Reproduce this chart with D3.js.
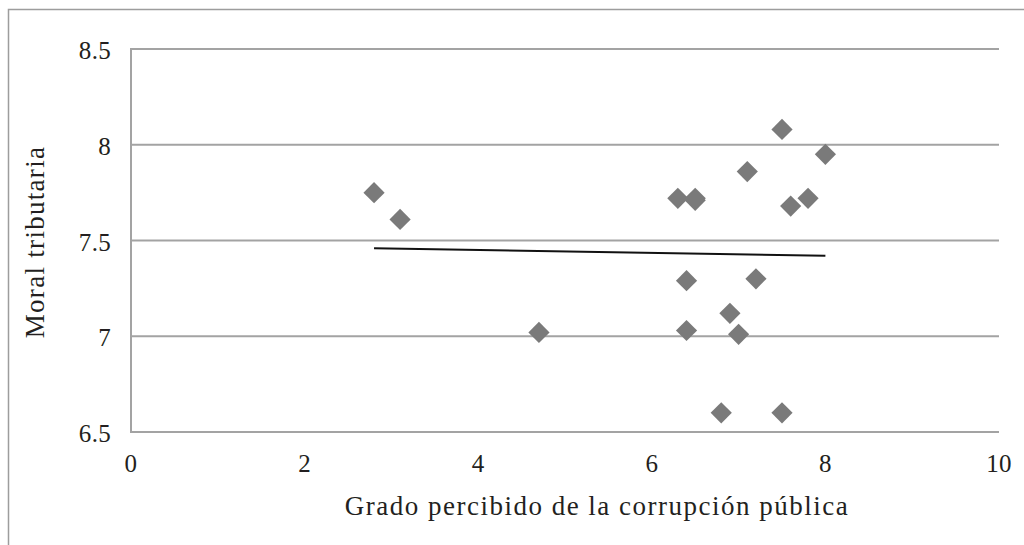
<!DOCTYPE html>
<html>
<head>
<meta charset="utf-8">
<script src="https://cdn.jsdelivr.net/npm/d3@7"></script>
<style>
  body { margin: 0; background: #fff; }
  text { font-family: "Liberation Serif", "DejaVu Serif", serif; fill: #231f20; }
</style>
</head>
<body>
<div id="chart"></div>
<script>
// data
var corrupcion = [2.8, 3.1, 4.7, 6.3, 6.5, 6.5, 7.1, 7.5, 8.0, 7.6, 7.8, 6.4, 7.2, 6.9, 6.4, 7.0, 6.8, 7.5];
var moral      = [7.75, 7.61, 7.02, 7.72, 7.72, 7.71, 7.86, 8.08, 7.95, 7.68, 7.72, 7.29, 7.30, 7.12, 7.03, 7.01, 6.60, 6.60];
var trendX = [2.8, 8.0];
var trendY = [7.46, 7.42];
var xTicks = [0, 2, 4, 6, 8, 10];
var yTicks = [6.5, 7, 7.5, 8, 8.5];
var xTitle = "Grado percibido de la corrupción pública";
var yTitle = "Moral tributaria";

const WIDTH = 1024;
const HEIGHT = 545;
const LEFT = 131;
const RIGHT = 999;
const TOP = 49;
const BOTTOM = 432;

var translate = function(x, y){
  return "translate(" + x + "," + y + ")";
};

var xScale = d3.scaleLinear().domain([0, 10]).range([LEFT, RIGHT]);
var yScale = d3.scaleLinear().domain([6.5, 8.5]).range([BOTTOM, TOP]);

var svg = d3.select('#chart').append('svg')
  .attr('width', WIDTH)
  .attr('height', HEIGHT);

// outer chart frame (runs off the right and bottom edges)
svg.append('rect')
  .attr('x', 8.5).attr('y', 9.5)
  .attr('width', WIDTH + 20).attr('height', HEIGHT + 20)
  .attr('fill', 'none')
  .attr('stroke', '#9d9d9d')
  .attr('stroke-width', 1.5);

// horizontal gridlines
svg.append('g').selectAll('line')
  .data(yTicks)
  .enter().append('line')
  .attr('x1', LEFT).attr('x2', RIGHT)
  .attr('y1', function(d){ return yScale(d); })
  .attr('y2', function(d){ return yScale(d); })
  .attr('stroke', '#a3a3a3')
  .attr('stroke-width', 2);

// left axis line
svg.append('line')
  .attr('x1', LEFT).attr('x2', LEFT)
  .attr('y1', TOP - 1).attr('y2', BOTTOM + 1)
  .attr('stroke', '#a3a3a3')
  .attr('stroke-width', 2);

// y tick labels
svg.append('g').selectAll('text')
  .data(yTicks)
  .enter().append('text')
  .attr('x', LEFT - 20)
  .attr('y', function(d){ return yScale(d) + 10; })
  .attr('text-anchor', 'end')
  .style('font-size', '25px')
  .style('letter-spacing', '0.3px')
  .text(function(d){ return d; });

// x tick labels
svg.append('g').selectAll('text')
  .data(xTicks)
  .enter().append('text')
  .attr('x', function(d){ return xScale(d); })
  .attr('y', BOTTOM + 40)
  .attr('text-anchor', 'middle')
  .style('font-size', '25px')
  .style('letter-spacing', '0.3px')
  .text(function(d){ return d; });

// trend line
var line = d3.line()
  .x(function(d){ return xScale(d); })
  .y(function(d, i){ return yScale(trendY[i]); });

svg.append('path')
  .attr('d', line(trendX))
  .attr('fill', 'none')
  .attr('stroke', '#111')
  .attr('stroke-width', 2);

// diamond markers
var diamond = d3.symbol().type(d3.symbolSquare).size(225);

svg.append('g').selectAll('path')
  .data(corrupcion)
  .enter().append('path')
  .attr('d', diamond)
  .attr('transform', function(d, i){
    return translate(xScale(d), yScale(moral[i])) + " rotate(45)";
  })
  .attr('fill', '#7a7a7a');

// axis titles
svg.append('text')
  .attr('x', 597)
  .attr('y', 515)
  .attr('text-anchor', 'middle')
  .style('font-size', '27px')
  .style('letter-spacing', '1.5px')
  .text(xTitle);

svg.append('text')
  .attr('transform', translate(44, 242) + " rotate(-90)")
  .attr('text-anchor', 'middle')
  .style('font-size', '27px')
  .style('letter-spacing', '1.3px')
  .text(yTitle);
</script>
</body>
</html>
